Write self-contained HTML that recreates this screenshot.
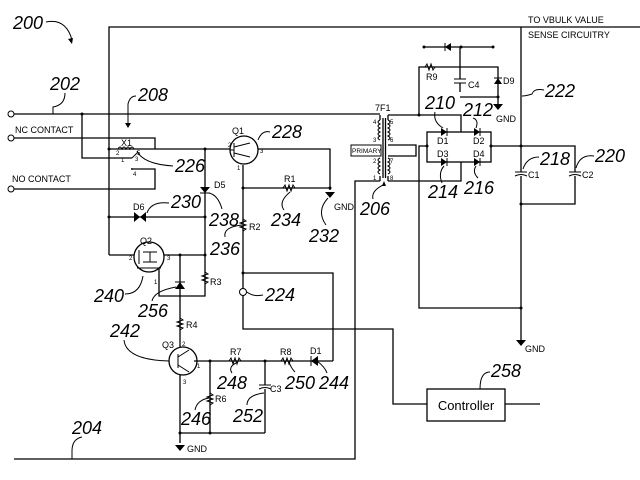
<!DOCTYPE html>
<html><head><meta charset="utf-8"><style>
html,body{margin:0;padding:0;background:#fff;}
svg{display:block;}
.w{stroke:#000;stroke-width:1.3;fill:none;}
.t{font-family:"Liberation Sans",sans-serif;font-size:9px;fill:#000;}
.s{font-family:"Liberation Sans",sans-serif;font-size:6px;fill:#000;}
.n{font-family:"Liberation Sans",sans-serif;font-size:18px;font-style:italic;fill:#000;}
.l{stroke:#000;stroke-width:1;fill:none;}
</style></head><body>
<svg width="640" height="480" viewBox="0 0 640 480" xmlns="http://www.w3.org/2000/svg">
<rect width="640" height="480" fill="#fff"/>
<!-- main wires -->
<path class="w" d="M109 255 V27 H640"/>
<path class="w" d="M14 114 H380"/>
<path class="w" d="M82 114 V158 H132"/>
<path class="w" d="M14 138 H155 V149"/>
<path class="w" d="M14 189 H155 V169 H133"/>
<path class="w" d="M109 149 H230"/>
<path class="w" d="M205 149 V296 H159 V268"/>
<path class="w" d="M109 217 H205"/>
<path class="w" d="M109 255 H134 M164 255 H205"/>
<path class="w" d="M180 255 V347"/>
<!-- Q1 -->
<path class="w" d="M258 149 H330 V190"/>
<path class="w" d="M243 165 V329 H393 V404 H427"/>
<path class="w" d="M243 188 H330"/>
<path class="w" d="M243 273 H333 V361"/>
<!-- Q3 -->
<path class="w" d="M194 361 H333"/>
<path class="w" d="M210 361 V433 M265 361 V433 M180 375 V443 M180 433 H265"/>
<!-- bottom -->
<path class="w" d="M14 459 H355 V181 H380"/>
<path class="w" d="M505 404 H540"/>
<!-- transformer right -->
<path class="w" d="M388 115 H461 V132 M419 115 V67 H498 V97 H460"/>
<path class="w" d="M460 47 V92"/>
<path class="w" d="M424 47 H493"/>
<path class="w" d="M388 145 H416 V156 H388"/>
<path class="w" d="M388 181 H461 V162"/>
<rect class="w" x="427" y="132" width="64" height="30"/>
<path class="w" d="M427 146 H419 V308 H521"/>
<path class="w" d="M491 146 H575 V204 H521"/>
<path class="w" d="M521 27 V340"/>
<!-- terminals -->
<circle cx="11" cy="114" r="3" fill="#fff" stroke="#000"/>
<circle cx="11" cy="138" r="3" fill="#fff" stroke="#000"/>
<circle cx="11" cy="189" r="3" fill="#fff" stroke="#000"/>
<circle cx="243" cy="292" r="3.5" fill="#fff" stroke="#000"/>
<!-- dots -->
<g fill="#000"><circle cx="82" cy="114" r="1.5"/><circle cx="109" cy="149" r="1.5"/><circle cx="205" cy="149" r="1.5"/><circle cx="109" cy="217" r="1.5"/><circle cx="205" cy="217" r="1.5"/><circle cx="205" cy="255" r="1.5"/><circle cx="180" cy="255" r="1.5"/><circle cx="243" cy="188" r="1.5"/><circle cx="330" cy="188" r="1.5"/><circle cx="210" cy="361" r="1.5"/><circle cx="265" cy="361" r="1.5"/><circle cx="210" cy="433" r="1.5"/><circle cx="180" cy="433" r="1.5"/><circle cx="419" cy="115" r="1.5"/><circle cx="461" cy="47" r="1.5"/><circle cx="498" cy="97" r="1.5"/><circle cx="427" cy="146" r="1.5"/><circle cx="491" cy="146" r="1.5"/><circle cx="521" cy="146" r="1.5"/><circle cx="521" cy="204" r="1.5"/><circle cx="521" cy="308" r="1.5"/><circle cx="243" cy="273" r="1.5"/><circle cx="424" cy="47" r="1.5"/><circle cx="493" cy="47" r="1.5"/></g>
<!-- relay X1 -->
<path class="l" d="M118 149 q2 -4 4 0 q2 -4 4 0 q2 -4 4 0 q2 -4 4 0"/>
<path class="l" d="M132 158 L138 152"/>
<circle cx="132" cy="169" r="1" fill="#000"/>
<text class="t" x="121" y="146">X1</text>
<text class="s" x="116" y="155">2</text><text class="s" x="137" y="155">5</text>
<text class="s" x="121" y="162">1</text><text class="s" x="135" y="161">3</text><text class="s" x="133" y="176">4</text>
<!-- Q1 -->
<circle class="w" cx="244" cy="150" r="14"/>
<path class="l" d="M234 143 V157 M230 150 H234 M234 147 L250 143 M234 153 L250 157"/>
<text class="t" x="232" y="134">Q1</text>
<text class="s" x="228" y="147">2</text><text class="s" x="260" y="153">3</text><text class="s" x="237" y="170">1</text>
<!-- D5 -->
<path d="M200 187 H210 L205 193 Z" fill="#000"/><path class="l" d="M200 193 H210"/>
<text class="t" x="214" y="188">D5</text>
<!-- D6 -->
<path d="M134 212 V222 L140 217 Z M146 212 V222 L140 217 Z" fill="#000"/>
<text class="t" x="133" y="210">D6</text>
<!-- Q2 -->
<circle class="w" cx="149" cy="257" r="15"/>
<path class="l" d="M139 250 V264 M143 252 H157 M143 262 H157 M150 252 V262 M137 268 H161"/>
<text class="t" x="140" y="244">Q2</text>
<text class="s" x="129" y="260">2</text><text class="s" x="167" y="260">3</text><text class="s" x="154" y="284">1</text>
<!-- zener 256 -->
<path d="M175 289 H185 L180 282 Z" fill="#000"/><path class="l" d="M175 282 H185"/>
<!-- R3 -->
<path class="l" d="M205 272 l3 2 l-6 2 l6 2 l-6 2 l6 2 l-3 2"/>
<text class="t" x="210" y="285">R3</text>
<!-- R4 -->
<path class="l" d="M180 318 l3 2 l-6 2 l6 2 l-6 2 l6 2 l-3 2"/>
<text class="t" x="186" y="328">R4</text>
<!-- R2 -->
<path class="l" d="M243 219 l3 2 l-6 2 l6 2 l-6 2 l6 2 l-3 2"/>
<text class="t" x="249" y="230">R2</text>
<!-- R1 -->
<path class="l" d="M283 188 l2 -3 l2 6 l2 -6 l2 6 l2 -6 l2 3"/>
<text class="t" x="284" y="182">R1</text>
<!-- GND 232 -->
<path d="M325 192 H335 L330 198 Z" fill="#000"/>
<text class="t" x="334" y="210">GND</text>
<!-- Q3 -->
<circle class="w" cx="183" cy="361" r="14"/>
<path class="l" d="M178 354 V368 M178 357 L189 350 M178 365 L189 372"/>
<text class="t" x="162" y="348">Q3</text>
<text class="s" x="182" y="346">2</text><text class="s" x="197" y="368">1</text><text class="s" x="183" y="384">3</text>
<!-- R7 R8 -->
<path class="l" d="M229 361 l2 -3 l2 6 l2 -6 l2 6 l2 -6 l2 3"/>
<text class="t" x="230" y="355">R7</text>
<path class="l" d="M281 361 l2 -3 l2 6 l2 -6 l2 6 l2 -6 l2 3"/>
<text class="t" x="280" y="355">R8</text>
<path d="M318 356 V366 L311 361 Z" fill="#000"/><path class="l" d="M311 356 V366"/>
<text class="t" x="310" y="354">D1</text>
<!-- R6 -->
<path class="l" d="M210 393 l3 2 l-6 2 l6 2 l-6 2 l6 2 l-3 2"/>
<text class="t" x="215" y="402">R6</text>
<!-- C3 -->
<rect x="258" y="385" width="14" height="4" fill="#fff"/>
<path class="l" d="M259 385 H271 M259 389 Q265 386 271 389"/>
<text class="t" x="270" y="392">C3</text>
<!-- GND Q3 -->
<path d="M175 445 H185 L180 451 Z" fill="#000"/>
<text class="t" x="187" y="452">GND</text>
<!-- Controller -->
<rect class="w" x="427" y="389" width="78" height="32" fill="#fff"/>
<text x="466" y="410" text-anchor="middle" style="font-family:'Liberation Sans',sans-serif;font-size:13px">Controller</text>
<!-- transformer -->
<path class="l" d="M380 120 q-4 2 0 4 q-4 2 0 4 q-4 2 0 4 q-4 2 0 4 q-4 2 0 4 M380 158 q-4 2 0 4 q-4 2 0 4 q-4 2 0 4 q-4 2 0 4"/>
<path class="l" d="M388 120 q4 2 0 4 q4 2 0 4 q4 2 0 4 q4 2 0 4 q4 2 0 4 M388 158 q4 2 0 4 q4 2 0 4 q4 2 0 4 q4 2 0 4"/>
<path class="w" d="M383 118 V178 M385.5 118 V178 M380 115 V120 M388 115 V120 M380 176 V181 M388 176 V181"/>
<rect x="351" y="145" width="30" height="11" fill="#fff" stroke="#000" stroke-width="1"/>
<text x="352" y="153" style="font-family:'Liberation Sans',sans-serif;font-size:6.5px">PRIMARY</text>
<text class="t" x="375" y="111">7F1</text>
<text class="s" x="373" y="124">4</text><text class="s" x="373" y="142">3</text><text class="s" x="373" y="163">2</text><text class="s" x="373" y="180">1</text>
<text class="s" x="390" y="124">5</text><text class="s" x="390" y="142">6</text><text class="s" x="390" y="163">7</text><text class="s" x="390" y="180">8</text>
<path d="M384 181 l-2 5 h4 z" fill="#000"/>
<!-- bridge diodes -->
<g fill="#000"><path d="M441 128 V136 L447 132 Z"/><path d="M474 128 V136 L480 132 Z"/><path d="M441 158 V166 L447 162 Z"/><path d="M474 158 V166 L480 162 Z"/></g>
<path class="l" d="M447 128 V136 M480 128 V136 M447 158 V166 M480 158 V166"/>
<text class="t" x="437" y="144">D1</text><text class="t" x="473" y="144">D2</text><text class="t" x="437" y="157">D3</text><text class="t" x="473" y="157">D4</text>
<!-- top diode, R9, C4, D9 -->
<path d="M451 43 V51 L445 47 Z" fill="#000"/><path class="l" d="M445 43 V51"/>
<path class="l" d="M425 67 l2 -3 l2 6 l2 -6 l2 6 l2 -3"/>
<text class="t" x="426" y="80">R9</text>
<rect x="454" y="79" width="12" height="4" fill="#fff"/>
<path class="l" d="M454 79 H466 M454 83 H466"/>
<text class="t" x="468" y="88">C4</text>
<path d="M494 84 H502 L498 78 Z" fill="#000"/><path class="l" d="M494 78 H502"/>
<text class="t" x="503" y="84">D9</text>
<path class="w" d="M498 97 V104"/><path d="M493 104 H503 L498 110 Z" fill="#000"/>
<text class="t" x="496" y="122">GND</text>
<!-- C1 C2 -->
<rect x="515" y="172" width="12" height="4" fill="#fff"/>
<path class="l" d="M515 172 H527 M515 176 Q521 173 527 176"/>
<text class="t" x="528" y="178">C1</text>
<rect x="569" y="172" width="12" height="4" fill="#fff"/>
<path class="l" d="M569 172 H581 M569 176 Q575 173 581 176"/>
<text class="t" x="582" y="178">C2</text>
<path d="M516 340 H526 L521 346 Z" fill="#000"/>
<text class="t" x="525" y="352">GND</text>
<!-- texts -->
<text class="t" x="15" y="133">NC CONTACT</text>
<text class="t" x="12" y="182">NO CONTACT</text>
<text class="t" x="528" y="23">TO VBULK VALUE</text>
<text class="t" x="528" y="38">SENSE CIRCUITRY</text>
<!-- numerals -->
<text class="n" x="13" y="29">200</text>
<path class="l" d="M46 22 q20 -4 26 18"/><path d="M72 44 l-4 -5 l5 -1z" fill="#000"/>
<text class="n" x="50" y="90">202</text><path class="l" d="M65 93 q0 12 -12 14 v7"/>
<text class="n" x="138" y="101">208</text><path class="l" d="M136 96 q-6 0 -8 8 v20"/><path d="M128 128 l-3 -5 h6z" fill="#000"/>
<text class="n" x="175" y="172">226</text><path class="l" d="M173 166 q-30 -2 -36 -15"/>
<text class="n" x="272" y="138">228</text><path class="l" d="M270 132 q-8 -2 -12 8"/>
<text class="n" x="171" y="208">230</text><path class="l" d="M169 203 q-18 -2 -22 10"/>
<text class="n" x="209" y="226">238</text><path class="l" d="M222 209 q-4 -14 -13 -16"/>
<text class="n" x="271" y="226">234</text><path class="l" d="M284 210 q-6 -8 6 -18"/>
<text class="n" x="309" y="242">232</text><path class="l" d="M326 225 q-10 -14 2 -27"/>
<text class="n" x="210" y="255">236</text><path class="l" d="M225 237 q-2 -10 17 -12"/>
<text class="n" x="94" y="302">240</text><path class="l" d="M125 294 q15 0 18 -18"/>
<text class="n" x="138" y="317">256</text><path class="l" d="M152 301 q2 -10 24 -14"/>
<text class="n" x="265" y="301">224</text><path class="l" d="M263 295 q-10 2 -16 -3"/>
<text class="n" x="110" y="337">242</text><path class="l" d="M124 340 q2 20 45 21"/>
<text class="n" x="217" y="389">248</text><path class="l" d="M232 373 q-4 -6 4 -10"/>
<text class="n" x="285" y="389">250</text><path class="l" d="M295 372 q-4 -4 -6 -10"/>
<text class="n" x="319" y="389">244</text><path class="l" d="M327 373 q-2 -6 -10 -12"/>
<text class="n" x="181" y="425">246</text><path class="l" d="M195 410 q2 -10 14 -12"/>
<text class="n" x="233" y="422">252</text><path class="l" d="M247 405 q0 -10 17 -12"/>
<text class="n" x="72" y="434">204</text><path class="l" d="M82 437 q-10 2 -10 14 v8"/>
<text class="n" x="491" y="377">258</text><path class="l" d="M490 372 q-10 0 -10 17"/>
<text class="n" x="360" y="215">206</text><path class="l" d="M373 199 q-2 -8 10 -14"/>
<text class="n" x="425" y="109">210</text><path class="l" d="M435 112 q-2 10 8 16"/>
<text class="n" x="463" y="116">212</text><path class="l" d="M473 118 q6 2 3 10"/>
<text class="n" x="428" y="198">214</text><path class="l" d="M442 183 q-4 -10 2 -17"/>
<text class="n" x="464" y="194">216</text><path class="l" d="M478 178 q-6 -6 -2 -12"/>
<text class="n" x="540" y="165">218</text><path class="l" d="M539 157 q-12 0 -16 12"/>
<text class="n" x="595" y="162">220</text><path class="l" d="M594 156 q-14 -2 -18 12"/>
<text class="n" x="545" y="97">222</text><path class="l" d="M544 90 q-10 -2 -12 4 q-6 2 -10 2"/>
</svg>
</body></html>
